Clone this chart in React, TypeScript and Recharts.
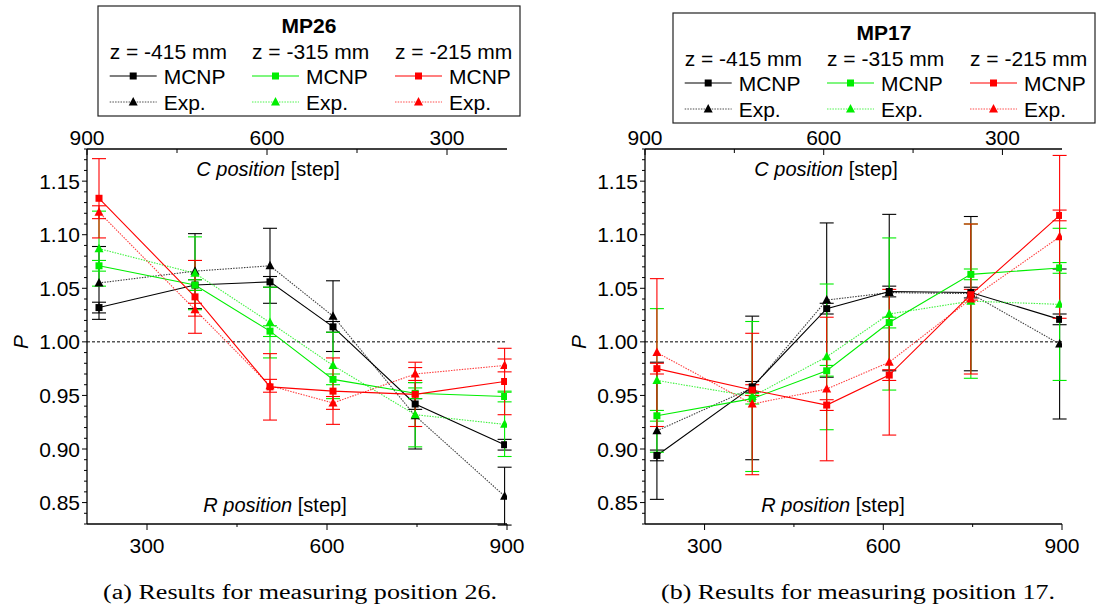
import React from 'react';
import { ComposedChart, Line, XAxis, YAxis, ErrorBar, ReferenceLine } from 'recharts';

// R position of each measurement [step]; the top axis shows C = 1100 - R
const rPositions = [220, 380, 505, 610, 747, 896];
const bottomTicks = [300, 450, 600, 750, 900];
const bottomLabels = [300, 600, 900];
const topTicks = [900, 750, 600, 450, 300];
const topLabels = [900, 600, 300];
const pTicks = [
  0.83, 0.84, 0.85, 0.86, 0.87, 0.88, 0.89, 0.9, 0.91, 0.92, 0.93, 0.94,
  0.95, 0.96, 0.97, 0.98, 0.99, 1.0, 1.01, 1.02, 1.03, 1.04, 1.05, 1.06,
  1.07, 1.08, 1.09, 1.1, 1.11, 1.12, 1.13, 1.14, 1.15, 1.16, 1.17, 1.18,
];
const pLabels = [0.85, 0.9, 0.95, 1.0, 1.05, 1.1, 1.15];

// MP26
const mp26Mcnp415 = [1.032, 1.053, 1.056, 1.014, 0.942, 0.904];
const mp26Exp415 = [1.055, 1.066, 1.071, 1.024, 0.931, 0.856];
const mp26Mcnp315 = [1.071, 1.053, 1.010, 0.965, 0.952, 0.949];
const mp26Exp315 = [1.087, 1.064, 1.018, 0.978, 0.932, 0.923];
const mp26Mcnp215 = [1.134, 1.042, 0.958, 0.954, 0.951, 0.963];
const mp26Exp215 = [1.121, 1.030, 0.959, 0.943, 0.970, 0.978];
const mp26Mcnp415Err = [0.005, 0.005, 0.005, 0.005, 0.005, 0.005];
const mp26Exp415Err = [0.034, 0.035, 0.035, 0.033, 0.031, 0.027];
const mp26Mcnp315Err = [0.005, 0.005, 0.005, 0.005, 0.005, 0.005];
const mp26Exp315Err = [0.035, 0.034, 0.033, 0.031, 0.030, 0.030];
const mp26Mcnp215Err = [0.037, 0.034, 0.031, 0.031, 0.030, 0.031];
const mp26Exp215Err = [0.006, 0.006, 0.006, 0.006, 0.006, 0.006];

// MP17
const mp17Mcnp415 = [0.894, 0.958, 1.031, 1.047, 1.046, 1.021];
const mp17Exp415 = [0.917, 0.957, 1.039, 1.046, 1.045, 0.998];
const mp17Mcnp315 = [0.931, 0.947, 0.973, 1.018, 1.063, 1.069];
const mp17Exp315 = [0.964, 0.949, 0.986, 1.026, 1.038, 1.035];
const mp17Mcnp215 = [0.975, 0.955, 0.941, 0.969, 1.044, 1.118];
const mp17Exp215 = [0.990, 0.942, 0.956, 0.981, 1.040, 1.098];
const mp17Mcnp415Err = [0.005, 0.005, 0.005, 0.005, 0.005, 0.005];
const mp17Exp415Err = [0.064, 0.067, 0.072, 0.073, 0.072, 0.070];
const mp17Mcnp315Err = [0.005, 0.005, 0.005, 0.005, 0.005, 0.005];
const mp17Exp315Err = [0.067, 0.070, 0.068, 0.071, 0.072, 0.071];
const mp17Mcnp215Err = [0.005, 0.005, 0.005, 0.005, 0.005, 0.005];
const mp17Exp215Err = [0.069, 0.066, 0.067, 0.068, 0.070, 0.076];

const zLabels = ['z = -415 mm', 'z = -315 mm', 'z = -215 mm'];
const zColors = ['#000000', '#00ee00', '#ff0000'];

const SANS = '"Liberation Sans", Arial, sans-serif';

type Row = Record<string, number>;

function buildRows(vals: number[][], errs: number[][]): Row[] {
  return rPositions.map((r, i) => {
    // c: the same rod position read on the top (C) axis
    const row: Row = { r, c: 1100 - r };
    vals.forEach((v, k) => {
      row['v' + k] = v[i];
      row['e' + k] = errs[k][i];
    });
    return row;
  });
}

const mp26Rows = buildRows(
  [mp26Mcnp415, mp26Exp415, mp26Mcnp315, mp26Exp315, mp26Mcnp215, mp26Exp215],
  [mp26Mcnp415Err, mp26Exp415Err, mp26Mcnp315Err, mp26Exp315Err, mp26Mcnp215Err, mp26Exp215Err],
);
const mp17Rows = buildRows(
  [mp17Mcnp415, mp17Exp415, mp17Mcnp315, mp17Exp315, mp17Mcnp215, mp17Exp215],
  [mp17Mcnp415Err, mp17Exp415Err, mp17Mcnp315Err, mp17Exp315Err, mp17Mcnp215Err, mp17Exp215Err],
);

const square = (color: string) => (p: any) =>
  p.cx == null ? <g key={'s' + p.index} /> : (
    <rect key={'s' + p.index} x={p.cx - 3.5} y={p.cy - 3.5} width={7} height={7} fill={color} />
  );

const triangle = (color: string) => (p: any) =>
  p.cx == null ? <g key={'t' + p.index} /> : (
    <polygon
      key={'t' + p.index}
      points={`${p.cx},${p.cy - 5} ${p.cx + 4.5},${p.cy + 3.5} ${p.cx - 4.5},${p.cy + 3.5}`}
      fill={color}
    />
  );

const YTick = (p: any) => {
  const v = p.payload.value;
  const major = pLabels.some((l) => Math.abs(l - v) < 1e-6);
  return (
    <g>
      <line x1={p.x} x2={p.x - (major ? 5 : 3)} y1={p.y} y2={p.y} stroke="#000" />
      {major && (
        <text x={p.x - 7} y={p.y} dy="0.36em" textAnchor="end" fontSize={21} fontFamily={SANS} fill="#000">
          {v.toFixed(2)}
        </text>
      )}
    </g>
  );
};

const BottomTick = (p: any) => {
  const v = p.payload.value;
  const major = bottomLabels.includes(v);
  return (
    <g>
      <line x1={p.x} x2={p.x} y1={p.y} y2={p.y + (major ? 6 : 3)} stroke="#000" />
      {major && (
        <text x={p.x} y={p.y + 21} dy="0.36em" textAnchor="middle" fontSize={21} fontFamily={SANS} fill="#000">
          {v}
        </text>
      )}
    </g>
  );
};

const TopTick = (p: any) => {
  const v = p.payload.value;
  const major = topLabels.includes(v);
  return (
    <g>
      <line x1={p.x} x2={p.x} y1={p.y} y2={p.y + (major ? 6 : 4)} stroke="#000" />
      {major && (
        <text x={p.x} y={p.y - 12} dy="0.36em" textAnchor="middle" fontSize={21} fontFamily={SANS} fill="#000">
          {v}
        </text>
      )}
    </g>
  );
};

function LegendBox({ title, left, top }: { title: string; left: number; top: number }) {
  const cols = [12.7, 155, 298];
  return (
    <svg
      width={424}
      height={112}
      style={{ position: 'absolute', left: left - 1, top: top - 1, overflow: 'visible' }}
    >
      <rect x={1} y={1} width={422} height={110} fill="#fff" stroke="#222" strokeWidth={1.2} />
      <text x={212} y={20} dy="0.36em" textAnchor="middle" fontSize={21} fontWeight="bold" fontFamily={SANS}>
        {title}
      </text>
      {cols.map((cx, k) => {
        const c = zColors[k];
        return (
          <g key={k}>
            <text x={cx} y={46} dy="0.36em" fontSize={21} fontFamily={SANS}>
              {zLabels[k]}
            </text>
            <line x1={cx} x2={cx + 47} y1={71} y2={71} stroke={c} strokeWidth={1.1} />
            <rect x={cx + 20} y={67.5} width={7} height={7} fill={c} />
            <text x={cx + 54} y={71} dy="0.36em" fontSize={21} fontFamily={SANS}>
              MCNP
            </text>
            <line x1={cx} x2={cx + 47} y1={97} y2={97} stroke={c} strokeWidth={1} strokeDasharray="1.5 1.2" strokeOpacity={0.7} />
            <polygon points={`${cx + 23.5},${92} ${cx + 28},${100.5} ${cx + 19},${100.5}`} fill={c} />
            <text x={cx + 54} y={97} dy="0.36em" fontSize={21} fontFamily={SANS}>
              Exp.
            </text>
          </g>
        );
      })}
    </svg>
  );
}

function Panel({
  rows,
  title,
  left,
  yAxisWidth,
  rightMargin,
  legendLeft,
  legendTop,
  caption,
}: {
  rows: Row[];
  title: string;
  left: number;
  yAxisWidth: number;
  rightMargin: number;
  legendLeft: number;
  legendTop: number;
  caption: string;
}) {
  const plotLeft = left + yAxisWidth;
  const labelStyle: React.CSSProperties = {
    position: 'absolute',
    fontFamily: SANS,
    fontSize: 20,
    whiteSpace: 'nowrap',
    transform: 'translate(-50%, -50%)',
    lineHeight: 1,
  };
  return (
    <>
      <div style={{ position: 'absolute', left, top: 0 }}>
        <ComposedChart
          width={540}
          height={570}
          data={rows}
          margin={{ top: 119, right: rightMargin, bottom: 16, left: 0 }}
        >
          <XAxis
            xAxisId="bottom"
            dataKey="r"
            type="number"
            domain={[200, 900]}
            allowDataOverflow
            ticks={bottomTicks}
            interval={0}
            height={30}
            tickSize={0}
            tickMargin={0}
            tickLine={false}
            tick={<BottomTick />}
            axisLine={{ stroke: '#000', strokeWidth: 1.3 }}
          />
          <XAxis
            xAxisId="top"
            dataKey="c"
            orientation="top"
            type="number"
            domain={[200, 900]}
            reversed
            allowDataOverflow
            ticks={topTicks}
            interval={0}
            height={30}
            tickSize={0}
            tickMargin={0}
            tickLine={false}
            tick={<TopTick />}
            axisLine={{ stroke: '#000', strokeWidth: 1.3 }}
          />
          <YAxis
            type="number"
            domain={[0.83, 1.18]}
            allowDataOverflow
            ticks={pTicks}
            interval={0}
            width={yAxisWidth}
            tickSize={0}
            tickMargin={0}
            tickLine={false}
            tick={<YTick />}
            axisLine={{ stroke: '#000', strokeWidth: 1.3 }}
          />
          <ReferenceLine xAxisId="bottom" y={1} stroke="#000" strokeWidth={1} strokeDasharray="3 2" />
          {/* invisible carrier so the top (C) axis gets its scale */}
          <Line
            xAxisId="top"
            dataKey="v0"
            stroke="none"
            dot={false}
            activeDot={false}
            legendType="none"
            isAnimationActive={false}
          />
          {[0, 1, 2, 3, 4, 5].map((k) => {
            const color = zColors[Math.floor(k / 2)];
            const isExp = k % 2 === 1;
            return (
              <Line
                key={k}
                xAxisId="bottom"
                type="linear"
                dataKey={'v' + k}
                stroke={color}
                strokeWidth={1.1}
                strokeDasharray={isExp ? '1.5 1.2' : undefined}
                strokeOpacity={isExp ? 0.75 : 1}
                dot={isExp ? triangle(color) : square(color)}
                activeDot={false}
                isAnimationActive={false}
              >
                <ErrorBar dataKey={'e' + k} direction="y" width={7} stroke={color} strokeWidth={1.1} />
              </Line>
            );
          })}
        </ComposedChart>
      </div>
      <div style={{ ...labelStyle, left: plotLeft + 181, top: 169 }}>
        <i>C position</i> [step]
      </div>
      <div style={{ ...labelStyle, left: plotLeft + 188, top: 505 }}>
        <i>R position</i> [step]
      </div>
      <div style={{ ...labelStyle, left: plotLeft - 67, top: 342, fontSize: 21, transform: 'translate(-50%, -50%) rotate(-90deg)' }}>
        <i>P</i>
      </div>
      <LegendBox title={title} left={legendLeft} top={legendTop} />
      <svg width={540} height={40} style={{ position: 'absolute', left, top: 575 }}>
        <text
          x={plotLeft - left + 16}
          y={24}
          fontSize={20}
          fontFamily='"Liberation Serif", "DejaVu Serif", serif'
          textLength={394}
          lengthAdjust="spacingAndGlyphs"
        >
          {caption}
        </text>
      </svg>
    </>
  );
}

export default function App() {
  return (
    <div
      style={{
        position: 'absolute',
        left: 0,
        top: 0,
        width: 1115,
        height: 610,
        background: '#fff',
        fontFamily: SANS,
        overflow: 'hidden',
      }}
    >
      <Panel
        rows={mp26Rows}
        title="MP26"
        left={0}
        yAxisWidth={87}
        rightMargin={33}
        legendLeft={98}
        legendTop={6}
        caption="(a) Results for measuring position 26."
      />
      <Panel
        rows={mp17Rows}
        title="MP17"
        left={560}
        yAxisWidth={85}
        rightMargin={38}
        legendLeft={673}
        legendTop={13}
        caption="(b) Results for measuring position 17."
      />
    </div>
  );
}
